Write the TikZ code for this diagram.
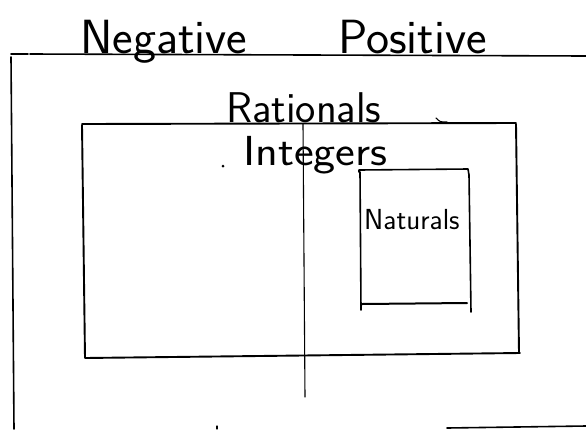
\documentclass[tikz,border=0pt]{standalone}
\begin{document}
\begin{tikzpicture}[x=1pt,y=-1pt,
  ink/.style={line width=1.6pt,line cap=round,line join=round,black},
  thin ink/.style={line width=1.1pt,line cap=round,black},
  hand/.style={inner sep=0pt,anchor=base west,font=\sffamily}]
\useasboundingbox[fill=white] (0,0) rectangle (586,429);
% outer box (Rationals)
\draw[ink] (11,54) -- (28,54);
\draw[ink] (30,54) -- (586,56);
\draw[ink] (11,57) -- (14,429);
\draw[ink] (447,428) -- (586,426);
\draw[thin ink] (217,426) -- (217,429);
% integers box
\draw[ink,line width=1.9pt] (82,124) -- (516,123);
\draw[ink,line width=1.9pt] (82,125) -- (85,358) -- (520,353);
\draw[ink,line width=1.9pt] (516,124) -- (519,353);
% vertical divider
\draw[thin ink] (303,124) -- (305,397);
% naturals box
\draw[ink] (359,172) -- (359,170) -- (468,169) -- (469,175);
\draw[ink] (360,172) -- (361,310);
\draw[ink] (469,175) -- (471,312);
\draw[ink,line width=2pt] (362,304) -- (467,303);
% labels
\node[hand,font=\sffamily\fontsize{48}{48}\selectfont,xscale=1.02] (neg) at (80,53) {Negative};
\node[hand,font=\sffamily\fontsize{48}{48}\selectfont,xscale=1.02] (pos) at (338,53) {Positive};
\node[hand,font=\sffamily\fontsize{43}{43}\selectfont] (rat) at (226,122) {Rationals};
\draw[thin ink] (436,118) .. controls (440,122) .. (447,122);
\node[hand,font=\sffamily\fontsize{42}{42}\selectfont,xscale=1.12] (int) at (243,165) {Integers};
\fill (223,166) circle (1.5);
\node[hand,font=\sffamily\fontsize{29}{29}\selectfont] (nat) at (364,229) {Naturals};
\end{tikzpicture}
\end{document}
